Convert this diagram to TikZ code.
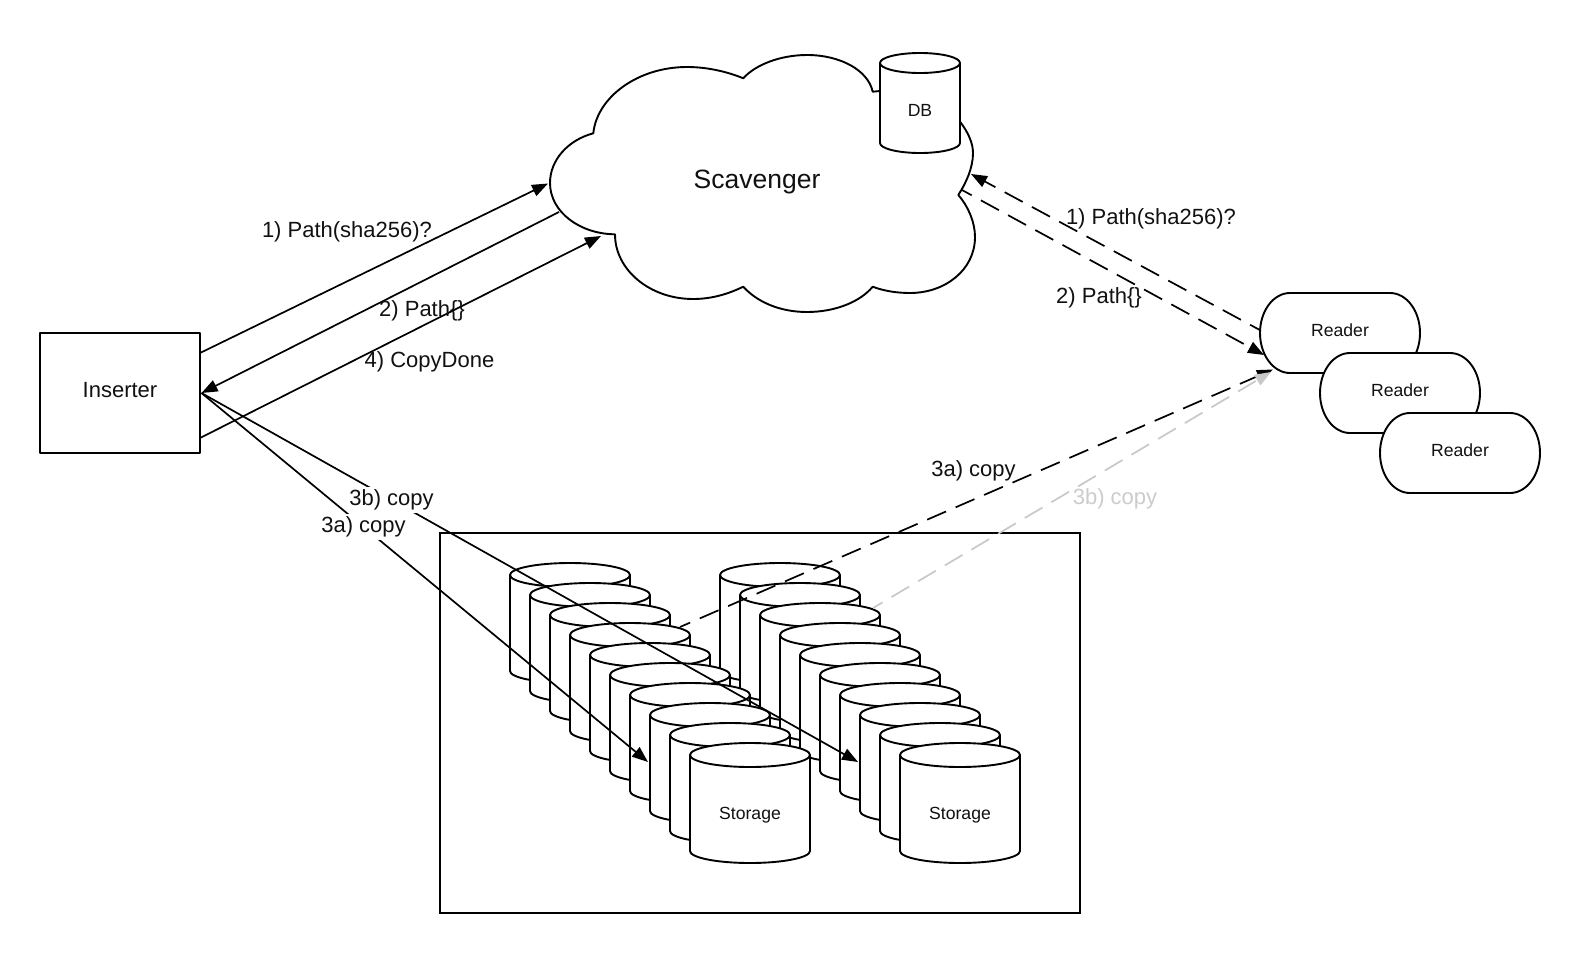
\documentclass[tikz,border=0pt]{standalone}
\usepackage{fontspec}
\setmainfont{Liberation Sans}
\usetikzlibrary{arrows.meta}
\definecolor{ink}{HTML}{111111}
\definecolor{ghost}{HTML}{C8C8C8}
\definecolor{ghosttext}{HTML}{CCCCCC}
\tikzset{
  shapeline/.style={draw=black,line width=1.9pt,fill=white,line join=round},
  txtbig/.style={text=ink,font=\fontsize{26.5}{28}\selectfont,inner sep=0pt},
  txtlab/.style={text=ink,font=\fontsize{22}{24}\selectfont,inner sep=0pt},
  txtsmall/.style={text=ink,font=\fontsize{17.6}{20}\selectfont,inner sep=0pt},
  conn/.style={draw=black,line width=1.7pt,-{Triangle[length=16pt,width=12pt]}},
  dashconn/.style={conn,dash pattern=on 20.5pt off 10.5pt,dash phase=9.5pt},
  ghostconn/.style={dashconn,draw=ghost,-{Triangle[length=16pt,width=12pt,fill=ghost]}},
  lwhite/.style={txtlab,fill=white,inner xsep=1pt,minimum height=26pt},
}
% name, left x, top y, width, height, ellipse ry, label, label y
\newcommand{\cylinderat}[8]{%
  \path[shapeline] (#2,{-(#3+#6)})
     arc[start angle=180,end angle=0,x radius={#4/2},y radius=#6]
     -- ++(0,{-(#5-2*#6)})
     arc[start angle=0,end angle=-180,x radius={#4/2},y radius=#6]
     -- cycle;
  \draw[shapeline,fill=none] (#2,{-(#3+#6)})
     arc[start angle=180,end angle=360,x radius={#4/2},y radius=#6];
  \node[txtsmall] (#1) at ({#2+#4/2},{-#8}) {#7};
}
% name, left x, top y
\newcommand{\readerat}[3]{%
  \path[shapeline] ({#2+30},-#3)
     -- ({#2+130},-#3)
     arc[start angle=90,end angle=-90,x radius=30,y radius=40]
     -- ({#2+30},{-(#3+80)})
     arc[start angle=270,end angle=90,x radius=30,y radius=40]
     -- cycle;
  \node[txtsmall,minimum width=160pt,minimum height=80pt] (#1) at ({#2+80},{-(#3+37)}) {Reader};
}
\begin{document}
\begin{tikzpicture}[x=1pt,y=1pt]
\useasboundingbox (0,0) rectangle (1580,-953);
\fill[white] (0,0) rectangle (1580,-953);

% Storage frame
\draw[draw=black,line width=2.2pt] (440,-533) rectangle (1080,-913);

% Cloud
\path[shapeline]
  (593.3,-133.3) .. controls (597,-97) and (638,-67) .. (687,-67)
  .. controls (708,-67) and (728,-72) .. (743.3,-78.3)
  .. controls (755,-65) and (780,-55) .. (807,-55)
  .. controls (840,-55) and (868,-70) .. (872.7,-91.7)
  .. controls (900,-88) and (945,-100) .. (960,-121.7)
  .. controls (968,-132) and (973,-143) .. (973,-153)
  .. controls (973,-168) and (966,-183) .. (958.3,-195)
  .. controls (968,-206) and (975,-222) .. (975,-237)
  .. controls (975,-270) and (945,-293) .. (910,-293)
  .. controls (897,-293) and (884,-291) .. (872.7,-286.7)
  .. controls (860,-302) and (835,-312) .. (807,-312)
  .. controls (780,-312) and (757,-302) .. (743.3,-286.7)
  .. controls (728,-294) and (712,-299) .. (693,-299)
  .. controls (650,-299) and (615,-270) .. (615,-234.3)
  .. controls (580,-234) and (550,-212) .. (550,-183)
  .. controls (550,-160) and (568,-140) .. (593.3,-133.3) -- cycle;
\node[txtbig] (cloud) at (757,-182) {Scavenger};

% DB
\cylinderat{db}{880}{53}{80}{100}{10}{DB}{110.5}

% Readers
\readerat{r1}{1260}{293}
\readerat{r2}{1320}{353}
\readerat{r3}{1380}{413}

% Inserter
\node[shapeline,line width=2.2pt,minimum width=160pt,minimum height=120pt,inner sep=0pt] (ins) at (120,-393) {};
\node[txtlab] (instext) at (120,-390) {Inserter};

% Storage stacks: the right stack lies under the left one
\foreach \i in {0,...,8}{
  \cylinderat{sb\i}{\numexpr720+20*\i\relax}{\numexpr563+20*\i\relax}{120}{120}{12}{}{\numexpr623+20*\i\relax}
}
\cylinderat{sb9}{900}{743}{120}{120}{12}{Storage}{815}
\foreach \i in {0,...,8}{
  \cylinderat{sa\i}{\numexpr510+20*\i\relax}{\numexpr563+20*\i\relax}{120}{120}{12}{}{\numexpr623+20*\i\relax}
}
\cylinderat{sa9}{690}{743}{120}{120}{12}{Storage}{815}

% Connector end points
\coordinate (insA) at (200,-353);
\coordinate (insC) at (200,-438);
\coordinate (insP) at (201.5,-393);
\coordinate (cloudA) at (548,-183.5);
\coordinate (cloudB) at (559,-212);
\coordinate (cloudC) at (601,-236);
\coordinate (cloudD) at (971,-174);
\coordinate (cloudE) at (962,-190);
\coordinate (readerE) at (1264,-355);
\coordinate (readerF) at (1273,-369.5);
\coordinate (readerG) at (1271,-372);
\coordinate (stackA) at (680,-627);
\coordinate (stackB) at (873,-608);
\coordinate (targetA) at (648,-762);
\coordinate (targetB) at (858,-762);

% Inserter <-> Scavenger
\draw[conn] (insA) -- (cloudA);
\draw[conn] (cloudB) -- (insP);
\draw[conn] (insC) -- (cloudC);

% Inserter -> Storage
\draw[conn] (insP) -- (targetA);
\draw[conn] (insP) -- (targetB);

% Reader <-> Scavenger
\draw[dashconn] (r1.west) -- (cloudD);
\draw[dashconn] (cloudE) -- (readerE);

% Storage -> Reader
\draw[dashconn] (stackA) -- (readerF);
\draw[ghostconn] (stackB) -- (readerG);

% Labels
\node[txtlab] (l1) at (347,-231.5) {1) Path(sha256)?};
\node[txtlab] (l2) at (422,-310.5) {2) Path\{\}};
\node[txtlab] (l4) at (429.5,-362) {4) CopyDone};
\node[lwhite] (l3a) at (363.5,-527) {3a) copy};
\node[lwhite] (l3b) at (391.5,-499.5) {3b) copy};
\node[txtlab] (rl1) at (1151,-219) {1) Path(sha256)?};
\node[txtlab] (rl2) at (1099,-297.5) {2) Path\{\}};
\node[txtlab] (rl3a) at (973.5,-471) {3a) copy};
\node[txtlab,text=ghosttext] (rl3b) at (1115,-499) {3b) copy};
\end{tikzpicture}
\end{document}
